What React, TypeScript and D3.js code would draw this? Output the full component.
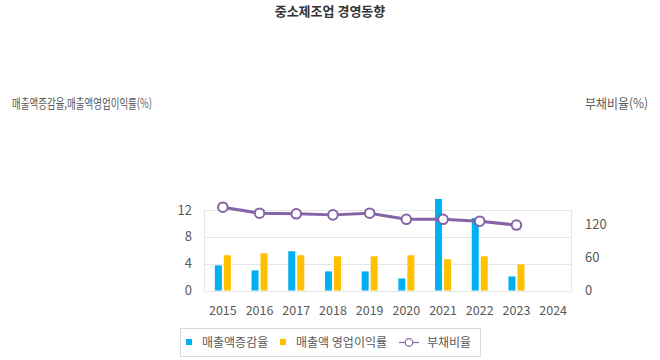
import React from "react";
import * as d3 from "d3";

const years = ["2015", "2016", "2017", "2018", "2019", "2020", "2021", "2022", "2023", "2024"];
const salesGrowth: (number | null)[] = [3.75, 3.0, 5.85, 2.85, 2.85, 1.8, 13.65, 10.8, 2.1, null];
const opMargin: (number | null)[] = [5.25, 5.55, 5.25, 5.1, 5.1, 5.25, 4.65, 5.1, 3.9, null];
const debtRatio: (number | null)[] = [151.5, 140.5, 139.5, 137.5, 140.5, 129.5, 129.5, 126, 119, null];
const leftTicks = [0, 4, 8, 12];
const rightTicks = [0, 60, 120];

const BLUE = "#00B0F0";
const YELLOW = "#FFC000";
const PURPLE = "#8463A6";
const GREY = "#595959";
const FONT = "'Noto Sans CJK KR', 'Noto Sans', sans-serif";

export default function App() {
  const W = 660, H = 360;
  const plot = { left: 204.5, right: 571.5, top: 210, bottom: 290.5 };
  const x = d3.scaleBand<string>().domain(years).range([plot.left, plot.right]).padding(0);
  const yL = d3.scaleLinear().domain([0, 12]).range([plot.bottom, plot.top]);
  const yR = d3.scaleLinear().domain([0, 60]).range([plot.bottom, plot.bottom - 33]);
  const bw = 7;
  const gap = 2;

  const line = d3
    .line<number | null>()
    .defined((d) => d != null)
    .x((_, i) => (x(years[i]) as number) + x.bandwidth() / 2)
    .y((d) => yR(d as number));

  return (
    <svg width={W} height={H} style={{ position: "absolute", left: 0, top: 0, background: "#fff" }} fontFamily={FONT}>
      <text x={330} y={16} textAnchor="middle" fontSize={13} fontWeight="bold" fill="#333">
        중소제조업 경영동향
      </text>
      <text x={12} y={108} fontSize={13} fill={GREY} textLength={140} lengthAdjust="spacingAndGlyphs">
        매출액증감율,매출액영업이익률(%)
      </text>
      <text x={585} y={108} fontSize={13} fill={GREY} textLength={63} lengthAdjust="spacingAndGlyphs">
        부채비율(%)
      </text>

      {/* gridlines */}
      {leftTicks.map((t) => (
        <line key={t} x1={plot.left} x2={plot.right} y1={Math.round(yL(t)) + 0.5} y2={Math.round(yL(t)) + 0.5} stroke="#E6E6E6" />
      ))}
      <line x1={plot.left} x2={plot.left} y1={plot.top} y2={plot.bottom} stroke="#E6E6E6" />
      <line x1={plot.right} x2={plot.right} y1={plot.top} y2={plot.bottom} stroke="#E6E6E6" />

      {/* left ticks */}
      {leftTicks.map((t) => (
        <text key={t} x={192} y={yL(t) + 4.5} textAnchor="end" fontSize={13} fill={GREY}>
          {t}
        </text>
      ))}
      {rightTicks.map((t) => (
        <text key={t} x={585} y={yR(t) + 4.5} textAnchor="start" fontSize={13} fill={GREY}>
          {t}
        </text>
      ))}
      {years.map((yv) => (
        <text key={yv} x={(x(yv) as number) + x.bandwidth() / 2} y={315} textAnchor="middle" fontSize={12.5} fill={GREY}>
          {yv}
        </text>
      ))}

      {/* bars */}
      {years.map((yv, i) => {
        const cx = (x(yv) as number) + x.bandwidth() / 2;
        const a = salesGrowth[i];
        const b = opMargin[i];
        return (
          <g key={yv}>
            {a != null && (
              <rect x={cx - gap / 2 - bw} y={yL(a)} width={bw} height={yL(0) - yL(a)} fill={BLUE} />
            )}
            {b != null && (
              <rect x={cx + gap / 2} y={yL(b)} width={bw} height={yL(0) - yL(b)} fill={YELLOW} />
            )}
          </g>
        );
      })}

      {/* line */}
      <path d={line(debtRatio) || ""} fill="none" stroke={PURPLE} strokeWidth={3} strokeLinejoin="round" />
      {debtRatio.map((d, i) =>
        d == null ? null : (
          <circle
            key={i}
            cx={(x(years[i]) as number) + x.bandwidth() / 2}
            cy={yR(d)}
            r={4.8}
            fill="#fff"
            stroke={PURPLE}
            strokeWidth={2}
          />
        )
      )}

      {/* legend */}
      <rect x={180.5} y={328.5} width={300} height={28} fill="#fff" stroke="#D9D9D9" />
      <rect x={186} y={339} width={6} height={6} fill={BLUE} />
      <text x={202} y={346.5} fontSize={12} fill={GREY}>매출액증감율</text>
      <rect x={280} y={339} width={6} height={6} fill={YELLOW} />
      <text x={296} y={346.5} fontSize={12} fill={GREY}>매출액 영업이익률</text>
      <line x1={399} x2={419} y1={342.5} y2={342.5} stroke={PURPLE} strokeWidth={1.2} />
      <circle cx={409} cy={342.5} r={3.8} fill="#fff" stroke={PURPLE} strokeWidth={1.2} />
      <text x={427} y={346.5} fontSize={12} fill={GREY}>부채비율</text>
    </svg>
  );
}
